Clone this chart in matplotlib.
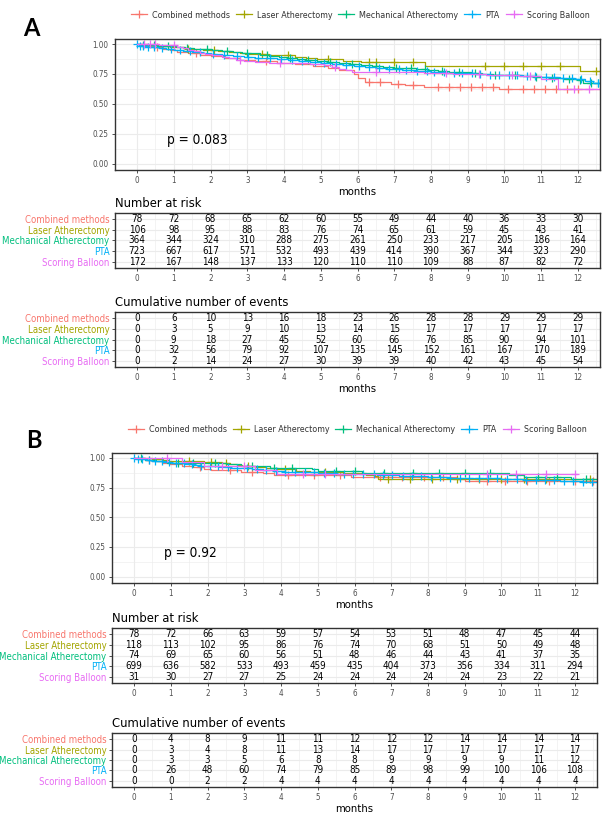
import numpy as np
import matplotlib
matplotlib.use('Agg')
import matplotlib.pyplot as plt
from matplotlib.font_manager import FontProperties, fontManager
from matplotlib.textpath import TextToPath
from matplotlib.lines import Line2D

# ---------------- data ----------------
groups = ["Combined methods", "Laser Atherectomy", "Mechanical Atherectomy", "PTA", "Scoring Balloon"]
colors = ["#F8766D", "#A3A500", "#00BF7D", "#00B0F6", "#E76BF3"]
months = list(range(13))

# Panel A survival steps (event times, survival after each step), censor times, end time
A_comb_t = [0.2, 0.45, 0.7, 0.9, 1.1, 1.4, 1.7, 2.0, 2.4, 2.8, 3.2, 3.8, 4.3, 4.8, 5.2, 5.5, 5.9, 6.0, 6.2, 6.9, 7.3, 7.8, 9.85]
A_comb_s = [0.987, 0.974, 0.961, 0.948, 0.935, 0.922, 0.909, 0.896, 0.883, 0.87, 0.857, 0.843, 0.83, 0.816, 0.801, 0.786, 0.75, 0.718, 0.684, 0.669, 0.654, 0.638, 0.62]
A_comb_c = [0.55, 1.6, 3.5, 6.3, 6.6, 7.1, 7.5, 8.2, 8.5, 8.8, 9.1, 9.4, 9.7, 10.1, 10.5, 10.8, 11.1, 11.4, 11.7, 12.0]

A_laser_t = [0.3, 0.6, 0.9, 1.3, 1.8, 2.2, 2.5, 2.8, 2.95, 3.6, 4.3, 4.6, 4.9, 5.6, 6.1, 7.85, 12.05]
A_laser_s = [0.991, 0.981, 0.972, 0.962, 0.953, 0.943, 0.934, 0.924, 0.915, 0.905, 0.894, 0.883, 0.872, 0.86, 0.846, 0.815, 0.777]
A_laser_c = [1.4, 2.1, 3.4, 4.1, 5.2, 6.3, 6.5, 7.0, 7.5, 9.47, 10.0, 10.5, 11.0, 11.5, 12.5]

A_mech_t = [0.1, 0.3, 0.55, 0.8, 1.05, 1.3, 1.55, 1.8, 2.05, 2.3, 2.6, 2.85, 3.1, 3.35, 3.6, 3.85, 4.1, 4.35, 4.6, 4.9, 5.2, 5.5, 5.8, 6.1, 6.4, 6.7, 7.0, 7.3, 7.6, 7.9, 8.2, 8.5, 8.8, 9.1, 9.4, 9.7, 10.0, 10.4, 10.8, 11.2, 11.6, 12.0, 12.15]
A_mech_s = [0.995, 0.99, 0.985, 0.98, 0.975, 0.968, 0.962, 0.956, 0.95, 0.943, 0.936, 0.929, 0.922, 0.912, 0.902, 0.893, 0.884, 0.875, 0.867, 0.859, 0.851, 0.843, 0.835, 0.826, 0.818, 0.81, 0.803, 0.796, 0.789, 0.782, 0.775, 0.768, 0.762, 0.756, 0.75, 0.744, 0.738, 0.731, 0.724, 0.717, 0.71, 0.703, 0.675]
A_mech_c = [0.15, 0.45, 0.85, 1.35, 1.9, 2.45, 3.0, 3.55, 4.15, 4.65, 5.25, 5.85, 6.5, 7.05, 7.45, 7.85, 8.3, 8.75, 9.2, 9.75, 10.3, 10.85, 11.3, 11.75, 12.05, 12.35, 12.55]

A_pta_t = [0.05, 0.2, 0.4, 0.6, 0.8, 1.0, 1.25, 1.5, 1.75, 2.0, 2.3, 2.6, 2.9, 3.2, 3.5, 3.8, 4.1, 4.4, 4.7, 5.0, 5.3, 5.6, 5.9, 6.2, 6.5, 6.8, 7.2, 7.6, 8.0, 8.4, 8.8, 9.2, 9.6, 10.0, 10.5, 11.0, 11.5, 11.9, 12.2, 12.4]
A_pta_s = [0.985, 0.978, 0.971, 0.964, 0.957, 0.95, 0.941, 0.933, 0.925, 0.918, 0.91, 0.902, 0.894, 0.887, 0.88, 0.873, 0.866, 0.859, 0.851, 0.843, 0.834, 0.825, 0.815, 0.806, 0.797, 0.789, 0.781, 0.774, 0.767, 0.761, 0.755, 0.749, 0.743, 0.737, 0.731, 0.725, 0.718, 0.705, 0.69, 0.675]
A_pta_c = [0.0, 0.08, 0.17, 0.3, 0.47, 0.68, 0.92, 1.18, 1.43, 1.72, 2.08, 2.37, 2.71, 3.02, 3.28, 3.63, 3.91, 4.22, 4.48, 4.83, 5.08, 5.42, 5.68, 6.04, 6.31, 6.58, 6.87, 7.12, 7.33, 7.62, 7.88, 8.07, 8.36, 8.63, 8.84, 9.12, 9.33, 9.61, 9.86, 10.12, 10.34, 10.62, 10.83, 11.12, 11.36, 11.58, 11.84, 12.08, 12.33, 12.55]

A_score_t = [0.6, 0.95, 1.1, 1.25, 1.4, 1.55, 1.7, 1.85, 2.05, 2.3, 2.5, 2.7, 2.9, 3.2, 3.6, 4.3, 4.7, 5.1, 5.3, 5.5, 5.7, 5.85, 7.8, 8.6, 9.5, 10.4, 11.0, 11.45]
A_score_s = [0.994, 0.988, 0.976, 0.964, 0.952, 0.94, 0.928, 0.916, 0.904, 0.892, 0.88, 0.868, 0.856, 0.85, 0.844, 0.838, 0.832, 0.826, 0.81, 0.795, 0.78, 0.765, 0.758, 0.75, 0.742, 0.732, 0.705, 0.625]
A_score_c = [0.2, 0.35, 0.5, 1.0, 2.8, 3.9, 5.4, 6.5, 8.4, 9.3, 10.2, 10.7, 11.9, 12.3]

A_risk = [
    [78, 72, 68, 65, 62, 60, 55, 49, 44, 40, 36, 33, 30],
    [106, 98, 95, 88, 83, 76, 74, 65, 61, 59, 45, 43, 41],
    [364, 344, 324, 310, 288, 275, 261, 250, 233, 217, 205, 186, 164],
    [723, 667, 617, 571, 532, 493, 439, 414, 390, 367, 344, 323, 290],
    [172, 167, 148, 137, 133, 120, 110, 110, 109, 88, 87, 82, 72],
]
A_events = [
    [0, 6, 10, 13, 16, 18, 23, 26, 28, 28, 29, 29, 29],
    [0, 3, 5, 9, 10, 13, 14, 15, 17, 17, 17, 17, 17],
    [0, 9, 18, 27, 45, 52, 60, 66, 76, 85, 90, 94, 101],
    [0, 32, 56, 79, 92, 107, 135, 145, 152, 161, 167, 170, 189],
    [0, 2, 14, 24, 27, 30, 39, 39, 40, 42, 43, 45, 54],
]
A_pval = "p = 0.083"

# Panel B
B_comb_t = [0.3, 0.5, 0.75, 0.95, 1.3, 1.6, 1.9, 2.1, 2.9, 3.5, 3.8, 5.9, 8.8, 9.0]
B_comb_s = [0.987, 0.974, 0.961, 0.948, 0.935, 0.922, 0.909, 0.896, 0.883, 0.87, 0.857, 0.843, 0.827, 0.81]
B_comb_c = [0.4, 1.8, 2.6, 3.2, 4.2, 4.9, 5.6, 6.7, 7.3, 7.9, 8.4, 9.6, 10.1, 10.7, 11.3, 12.0, 12.5]

B_laser_t = [0.5, 0.8, 0.95, 1.9, 2.4, 2.6, 2.8, 2.95, 3.3, 3.6, 3.9, 4.4, 4.8, 5.7, 6.3, 6.55, 6.65]
B_laser_s = [0.992, 0.983, 0.975, 0.966, 0.957, 0.949, 0.94, 0.931, 0.922, 0.913, 0.904, 0.894, 0.884, 0.873, 0.86, 0.845, 0.825]
B_laser_c = [1.5, 2.1, 2.5, 3.1, 4.1, 5.2, 6.9, 7.5, 8.1, 8.8, 9.4, 10.0, 10.6, 11.2, 12.4]

B_mech_t = [0.3, 0.6, 0.9, 2.5, 2.9, 3.7, 4.85, 5.0, 6.2, 10.2, 10.6, 11.9]
B_mech_s = [0.986, 0.973, 0.959, 0.946, 0.932, 0.918, 0.904, 0.89, 0.875, 0.857, 0.84, 0.82]
B_mech_c = [0.2, 1.2, 1.6, 2.2, 3.2, 3.8, 4.3, 5.5, 6.0, 6.8, 7.6, 8.3, 9.0, 9.7, 11.0, 11.5, 12.3]

B_pta_t = [0.05, 0.2, 0.35, 0.5, 0.65, 0.8, 1.0, 1.2, 1.4, 1.6, 1.8, 2.0, 2.3, 2.6, 2.9, 3.2, 3.5, 3.8, 4.1, 4.5, 5.0, 5.5, 6.0, 6.6, 7.2, 7.6, 8.0, 8.6, 9.4, 10.0, 10.6, 11.0, 11.6, 12.2]
B_pta_s = [0.995, 0.99, 0.984, 0.978, 0.972, 0.966, 0.96, 0.954, 0.948, 0.942, 0.936, 0.93, 0.924, 0.918, 0.912, 0.905, 0.898, 0.892, 0.886, 0.88, 0.874, 0.868, 0.862, 0.857, 0.852, 0.845, 0.838, 0.834, 0.83, 0.825, 0.818, 0.812, 0.806, 0.799]
B_pta_c = [0.0, 0.1, 0.22, 0.41, 0.58, 0.77, 0.96, 1.14, 1.37, 1.58, 1.83, 2.07, 2.29, 2.55, 2.81, 3.07, 3.34, 3.58, 3.86, 4.12, 4.39, 4.66, 4.91, 5.18, 5.44, 5.72, 5.97, 6.24, 6.52, 6.77, 7.03, 7.31, 7.56, 7.82, 8.08, 8.33, 8.61, 8.87, 9.12, 9.38, 9.63, 9.89, 10.16, 10.42, 10.67, 10.93, 11.18, 11.44, 11.71, 11.96, 12.22, 12.47]

B_score_t = [1.3, 1.9, 3.3, 3.9]
B_score_s = [0.968, 0.935, 0.90, 0.865]
B_score_c = [0.9, 2.4, 3.0, 4.6, 5.2, 9.6, 10.4, 11.2, 12.0]

B_risk = [
    [78, 72, 66, 63, 59, 57, 54, 53, 51, 48, 47, 45, 44],
    [118, 113, 102, 95, 86, 76, 74, 70, 68, 51, 50, 49, 48],
    [74, 69, 65, 60, 56, 51, 48, 46, 44, 43, 41, 37, 35],
    [699, 636, 582, 533, 493, 459, 435, 404, 373, 356, 334, 311, 294],
    [31, 30, 27, 27, 25, 24, 24, 24, 24, 24, 23, 22, 21],
]
B_events = [
    [0, 4, 8, 9, 11, 11, 12, 12, 12, 14, 14, 14, 14],
    [0, 3, 4, 8, 11, 13, 14, 17, 17, 17, 17, 17, 17],
    [0, 3, 3, 5, 6, 8, 8, 9, 9, 9, 9, 11, 12],
    [0, 26, 48, 60, 74, 79, 85, 89, 98, 99, 100, 106, 108],
    [0, 0, 2, 2, 4, 4, 4, 4, 4, 4, 4, 4, 4],
]
B_pval = "p = 0.92"

A_curves = [(A_comb_t, A_comb_s, A_comb_c, 12.6), (A_laser_t, A_laser_s, A_laser_c, 12.6),
            (A_mech_t, A_mech_s, A_mech_c, 12.6), (A_pta_t, A_pta_s, A_pta_c, 12.6),
            (A_score_t, A_score_s, A_score_c, 12.6)]
B_curves = [(B_comb_t, B_comb_s, B_comb_c, 12.6), (B_laser_t, B_laser_s, B_laser_c, 12.6),
            (B_mech_t, B_mech_s, B_mech_c, 12.6), (B_pta_t, B_pta_s, B_pta_c, 12.6),
            (B_score_t, B_score_s, B_score_c, 12.05)]

# ---------------- fonts ----------------
def _pick_font():
    regular = [f for f in fontManager.ttflist
               if f.style == 'normal' and str(f.weight) in ('400', 'normal', 'regular', 'book')]
    for f in regular:
        if f.name in ('Liberation Sans Narrow', 'Arial Narrow'):
            return f.fname
    for name in ('Noto Sans', 'Open Sans', 'Roboto', 'DejaVu Sans'):
        for st in ('condensed', 'semi-condensed'):
            for f in regular:
                if f.name == name and str(f.stretch) == st:
                    return f.fname
    for f in regular:
        if f.name == 'Liberation Sans':
            return f.fname
    return None


FONT_PATH = _pick_font()


def FP(size):
    if FONT_PATH:
        return FontProperties(fname=FONT_PATH, size=size)
    return FontProperties(family='DejaVu Sans', size=size)


_ttp = TextToPath()


def fit(s, target_px, max_size):
    w, h, d = _ttp.get_text_width_height_descent(s, FP(max_size), ismath=False)
    wpx = w * 100.0 / 72.0
    return min(max_size, max_size * target_px / wpx)


SZ_LEG = fit("Mechanical Atherectomy", 99, 8.5)
SZ_YLAB = fit("Mechanical Atherectomy", 107, 8.5)
SZ_TICK = fit("0.75", 16, 7.5)
SZ_NUM = fit("723", 17, 9.5)
SZ_TITLE = fit("Cumulative number of events", 172, 11.5)
SZ_MONTHS = fit("months", 38, 10.0)
SZ_P = fit("p = 0.083", 61, 12.0)

# ---------------- layout ----------------
W, H = 608, 823
fig = plt.figure(figsize=(W / 100, H / 100), dpi=100)


def rect(l, t, r, b):
    return [l / W, 1 - b / H, (r - l) / W, (b - t) / H]


XLIM = (-0.6, 12.6)
GRID = '#EBEBEB'
TICKC = '#4D4D4D'
FRAME = '#333333'


def style_frame(ax, ylab_size):
    for sp in ax.spines.values():
        sp.set_color(FRAME)
        sp.set_linewidth(1.0)
    ax.tick_params(which='major', length=2.5, color=FRAME, width=0.6, labelcolor=TICKC, pad=2)
    ax.tick_params(which='minor', length=0)
    for lab in ax.get_xticklabels():
        lab.set_fontproperties(FP(SZ_TICK))
    for lab in ax.get_yticklabels():
        lab.set_fontproperties(FP(ylab_size))


def surv_panel(box, curves, pval):
    ax = fig.add_axes(rect(*box))
    ax.set_xlim(*XLIM)
    ax.set_ylim(-0.054, 1.042)
    ax.set_xticks(months)
    ax.set_xticks(np.arange(0.5, 12.6, 1.0), minor=True)
    ax.set_yticks([0, 0.25, 0.5, 0.75, 1.0])
    ax.set_yticks([0.125, 0.375, 0.625, 0.875], minor=True)
    ax.set_yticklabels(["0.00", "0.25", "0.50", "0.75", "1.00"])
    ax.grid(which='major', color=GRID, lw=0.8)
    ax.grid(which='minor', color=GRID, lw=0.4)
    ax.set_axisbelow(True)
    for (t, s, c, end), col in zip(curves, colors):
        x = [0.0] + list(t) + [end]
        y = [1.0] + list(s) + [s[-1]]
        ax.step(x, y, where='post', color=col, lw=0.9)
        tt = np.array(t)
        ss = np.array([1.0] + list(s))
        cy = ss[np.searchsorted(tt, np.array(c), side='right')]
        ax.plot(c, cy, ls='none', marker='+', ms=6, mew=0.9, color=col)
    ax.text(0.82, 0.2, pval, fontproperties=FP(SZ_P), ha='left', va='center', color='black')
    ax.set_xlabel('months', fontproperties=FP(SZ_MONTHS), labelpad=1, color='black')
    style_frame(ax, SZ_TICK)
    return ax


def table_panel(box, values, title, xlabel):
    ax = fig.add_axes(rect(*box))
    ax.set_xlim(*XLIM)
    ax.set_ylim(-0.6, 4.6)
    ax.set_xticks(months)
    ax.set_xticks(np.arange(0.5, 12.6, 1.0), minor=True)
    ax.set_yticks([4, 3, 2, 1, 0])
    ax.set_yticklabels(groups)
    ax.grid(which='major', color=GRID, lw=0.8)
    ax.grid(which='minor', axis='x', color=GRID, lw=0.4)
    ax.set_axisbelow(True)
    for i, row in enumerate(values):
        for m, v in zip(months, row):
            ax.text(m, 4 - i, str(v), ha='center', va='center', fontproperties=FP(SZ_NUM), color='black')
    style_frame(ax, SZ_YLAB)
    ax.tick_params(axis='y', pad=1.5)
    for lab, col in zip(ax.get_yticklabels(), colors):
        lab.set_color(col)
    ax.set_title(title, loc='left', fontproperties=FP(SZ_TITLE), pad=4)
    if xlabel:
        ax.set_xlabel(xlabel, fontproperties=FP(SZ_MONTHS), labelpad=1)
    return ax


def legend(cx, cy):
    handles = [Line2D([], [], color=c, marker='+', ms=6, mew=0.9, lw=0.9) for c in colors]
    em = SZ_LEG * 100.0 / 72.0
    fig.legend(handles, groups, loc='center', bbox_to_anchor=(cx / W, 1 - cy / H), ncol=5,
               frameon=False, prop=FP(SZ_LEG), handlelength=16 / em, handletextpad=5 / em,
               columnspacing=6 / em, labelcolor='#333333', borderpad=0)


# Panel A
surv_panel((115, 39, 600, 170), A_curves, A_pval)
table_panel((115, 213, 600, 268), A_risk, 'Number at risk', None)
table_panel((115, 312, 600, 367), A_events, 'Cumulative number of events', 'months')
legend(360, 15)
fig.text(31 / W, 1 - 28 / H, 'A', fontsize=17, fontweight='bold', family=['Lato', 'DejaVu Sans'], ha='center', va='center')

# Panel B
surv_panel((112, 453, 597, 583), B_curves, B_pval)
table_panel((112, 628, 597, 683), B_risk, 'Number at risk', None)
table_panel((112, 733, 597, 787), B_events, 'Cumulative number of events', 'months')
legend(357, 430)
fig.text(34 / W, 1 - 440 / H, 'B', fontsize=17, fontweight='bold', family=['Lato', 'DejaVu Sans'], ha='center', va='center')

fig.savefig('out.png', dpi=100)
